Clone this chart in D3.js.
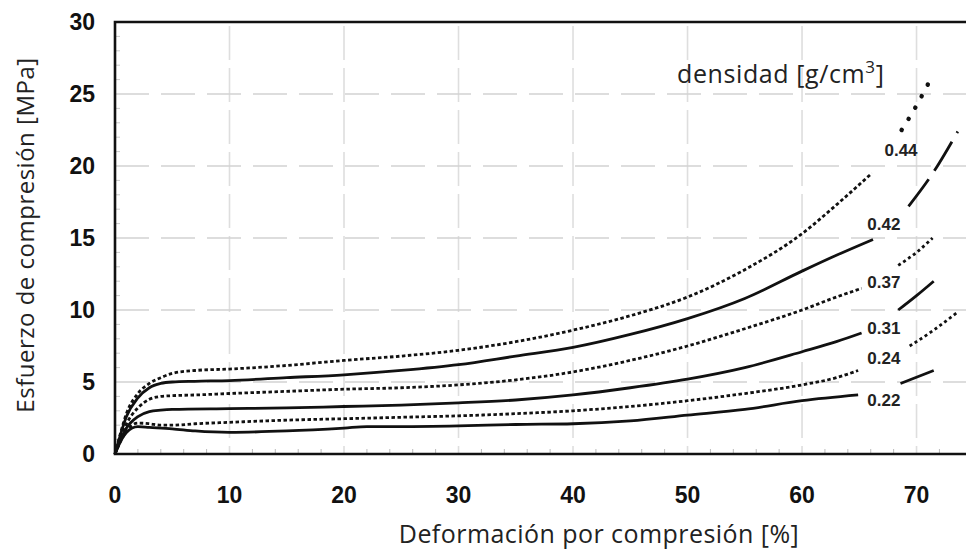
<!DOCTYPE html>
<html><head><meta charset="utf-8">
<script src="https://cdn.jsdelivr.net/npm/d3@7"></script>
<style>body{margin:0;background:#fff}</style>
</head><body><svg id="c" width="966" height="550"></svg>
<script>
const xTicks = [0,10,20,30,40,50,60,70];
const yTicks = [0,5,10,15,20,25,30];
const densities = ["0.22","0.24","0.31","0.37","0.42","0.44"];
const styles = ["solid","dotted","solid","dotted","solid","dotted"];
// main portion of each curve [strain %, stress MPa]
const s022 = [[0,0],[0.5,0.9],[1,1.5],[2,1.9],[3,1.85],[5,1.75],[7,1.6],[10,1.5],[15,1.6],[20,1.8],[22,1.9],[25,1.9],[30,1.95],[35,2.05],[40,2.1],[45,2.3],[50,2.7],[55,3.1],[60,3.7],[64.9,4.1]];
const s024 = [[0,0],[0.5,0.9],[1,1.6],[2,2.15],[3,2.1],[4,2.0],[5,2.0],[7,2.1],[10,2.2],[15,2.35],[20,2.45],[25,2.55],[30,2.65],[35,2.8],[40,3.0],[45,3.3],[50,3.7],[55,4.2],[60,4.8],[63,5.3],[64.9,5.8]];
const s031 = [[0,0],[0.5,1.0],[1,1.8],[2,2.6],[3,2.95],[4,3.05],[5,3.1],[10,3.15],[15,3.2],[20,3.3],[25,3.4],[30,3.55],[35,3.75],[40,4.1],[45,4.6],[50,5.2],[55,6.0],[60,7.1],[63,7.8],[65.2,8.4]];
const s037 = [[0,0],[0.5,1.2],[1,2.1],[2,3.2],[3,3.8],[4,4.0],[5,4.05],[7,4.1],[10,4.2],[15,4.35],[20,4.5],[25,4.6],[30,4.8],[35,5.15],[40,5.7],[45,6.5],[50,7.5],[55,8.7],[60,10.0],[63,10.9],[65.2,11.5]];
const s042 = [[0,0],[0.5,1.4],[1,2.6],[2,3.9],[3,4.6],[4,4.9],[5,5.0],[7,5.05],[10,5.1],[15,5.3],[20,5.5],[25,5.8],[30,6.2],[35,6.8],[40,7.4],[45,8.3],[50,9.4],[55,10.8],[60,12.7],[63,13.8],[66.2,14.9]];
const s044 = [[0,0],[0.5,1.5],[1,2.8],[2,4.2],[3,4.9],[4,5.3],[5,5.6],[7,5.8],[10,5.9],[15,6.15],[20,6.5],[25,6.8],[30,7.2],[35,7.8],[40,8.6],[45,9.6],[50,10.9],[55,12.8],[60,15.3],[63,17.3],[66.1,19.5]];
// continuation beyond the label gap
const t022 = [[68.6,4.9],[71.5,5.8]];
const t024 = [[69.4,7.5],[71.5,8.6],[73.5,9.8]];
const t031 = [[68.4,10.0],[70,11.0],[71.5,12.0]];
const t037 = [[68.4,13.1],[70,14.0],[71.4,15.0]];
const t042 = [[69.3,17.2],[71.5,19.6],[73.6,22.4]];
const t044 = [[68.7,22.5],[70,24.2],[71.4,26.3]];
const labelPos = [[65.7,3.75],[65.7,6.67],[65.7,8.75],[65.7,11.95],[65.7,16.0],[67.2,21.1]];
const mains = [s022,s024,s031,s037,s042,s044];
const tails = [t022,t024,t031,t037,t042,t044];
const tailDash = ["", "3,3", "", "3,3", "34,10", "0.1,13"];

const svg = d3.select("#c");
const L=115, T=22, B=454, R=966;
const x = d3.scaleLinear().domain([0,74.32]).range([L,R]);
const y = d3.scaleLinear().domain([0,30]).range([B,T]);

// grid
svg.append("g").selectAll("line").data(xTicks.filter(d=>d>0)).join("line")
  .attr("x1",d=>x(d)).attr("x2",d=>x(d)).attr("y1",T+4).attr("y2",B)
  .attr("stroke","#dedede").attr("stroke-width",1.6).attr("stroke-dasharray","34,8");
svg.append("g").selectAll("line").data(yTicks.filter(d=>d>0&&d<30)).join("line")
  .attr("x1",L).attr("x2",R).attr("y1",d=>y(d)).attr("y2",d=>y(d))
  .attr("stroke","#d2d2d2").attr("stroke-width",1.6).attr("stroke-dasharray","34,12");

// minor ticks
svg.append("g").selectAll("line").data(d3.range(2,74,2).filter(d=>d%10!==0)).join("line")
  .attr("x1",d=>x(d)).attr("x2",d=>x(d)).attr("y1",B).attr("y2",B-5)
  .attr("stroke","#bbb").attr("stroke-width",1);
svg.append("g").selectAll("line").data(d3.range(1,30,1).filter(d=>d%5!==0)).join("line")
  .attr("x1",L).attr("x2",L+5).attr("y1",d=>y(d)).attr("y2",d=>y(d))
  .attr("stroke","#ccc").attr("stroke-width",1);

// frame
svg.append("path").attr("d",`M${R},${T}H${L}V${B}H${R}`).attr("fill","none")
  .attr("stroke","#111").attr("stroke-width",2.6);

// tick labels
svg.append("g").selectAll("text").data(xTicks).join("text")
  .attr("x",d=>x(d)).attr("y",B+49).attr("text-anchor","middle")
  .attr("font-family","Liberation Sans, Arial, sans-serif").attr("font-weight","bold")
  .attr("font-size",23).attr("fill","#111").text(d=>d);
svg.append("g").selectAll("text").data(yTicks).join("text")
  .attr("x",95).attr("y",d=>y(d)+8).attr("text-anchor","end")
  .attr("font-family","Liberation Sans, Arial, sans-serif").attr("font-weight","bold")
  .attr("font-size",23).attr("fill","#111").text(d=>d);

// axis titles
svg.append("text").attr("x",599).attr("y",543).attr("text-anchor","middle")
  .attr("font-family","Open Sans, sans-serif").attr("font-size",25).attr("letter-spacing",0.45).attr("fill","#222")
  .text("Deformación por compresión [%]");
svg.append("text").attr("transform","translate(34,235) rotate(-90)").attr("text-anchor","middle")
  .attr("font-family","Open Sans, sans-serif").attr("font-size",24).attr("letter-spacing",0.5).attr("fill","#222")
  .text("Esfuerzo de compresión [MPa]");

// curves
const line = d3.line().x(d=>x(d[0])).y(d=>y(d[1])).curve(d3.curveMonotoneX);
mains.forEach((m,i)=>{
  svg.append("path").attr("d",line(m)).attr("fill","none").attr("stroke","#111")
    .attr("stroke-width",2.8).attr("stroke-linecap","butt")
    .attr("stroke-dasharray",styles[i]==="dotted"?"3.5,2.5":null);
});
tails.forEach((t,i)=>{
  svg.append("path").attr("d",line(t)).attr("fill","none").attr("stroke","#111")
    .attr("stroke-width",i===5?4.5:2.8).attr("stroke-linecap",i===5?"round":"butt")
    .attr("stroke-dasharray",tailDash[i]||null);
});

// curve labels
svg.append("g").selectAll("text").data(densities).join("text")
  .attr("x",(d,i)=>x(labelPos[i][0])).attr("y",(d,i)=>y(labelPos[i][1])+6)
  .attr("font-family","Liberation Sans, Arial, sans-serif").attr("font-weight","bold")
  .attr("font-size",17).attr("fill","#222").text(d=>d);

// legend title
const lt = svg.append("text").attr("x",677).attr("y",83)
  .attr("font-family","Open Sans, sans-serif").attr("font-size",25).attr("letter-spacing",0.6).attr("fill","#222");
lt.append("tspan").text("densidad [g/cm");
lt.append("tspan").attr("dy",-10).attr("font-size",17).text("3");
lt.append("tspan").attr("dy",10).text("]");
</script></body></html>
